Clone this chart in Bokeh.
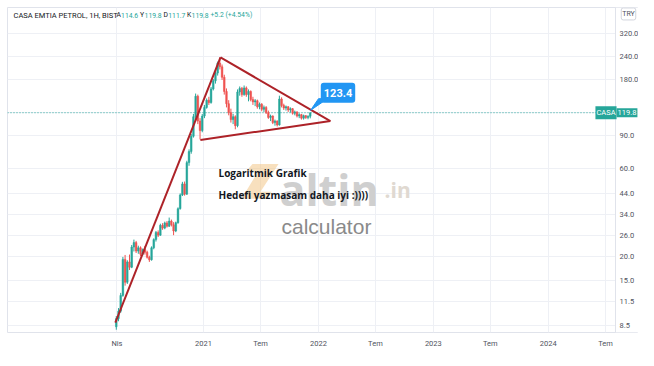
import math
import pandas as pd
from bokeh.plotting import figure
from bokeh.models import (ColumnDataSource, FixedTicker, Label, Span, PrintfTickFormatter,
                          Range1d, BoxAnnotation)
from bokeh.embed import file_html
from bokeh.resources import INLINE

# ---------------- data ----------------
start_week = "2020-03-30"   # weekly bars (1H = 1 hafta)
opens = [8.4, 9.3, 10.2, 12.4, 19.4, 14.6, 18.8, 17.6, 22.6, 23.9,
         21.5, 22.4, 20.7, 21.9, 21.2, 19.9, 19.3, 22.4, 24.8, 27.1,
         26.2, 29.6, 28.6, 30.5, 29.3, 31.2, 29.8, 27.6, 30.6, 36.4,
         43.2, 49.5, 43.6, 64.5, 74.0, 89.5, 114.0, 147.0, 108.0, 96.0,
         115.0, 128.0, 140.0, 136.0, 161.0, 178.0, 196.0, 222.0, 212.0, 186.0,
         156.0, 134.0, 120.0, 110.0, 114.0, 102.0, 155.0, 162.0, 150.0, 163.0,
         150.0, 156.0, 141.0, 137.0, 139.0, 129.0, 133.0, 125.0, 128.0, 120.0,
         113.0, 115.0, 106.0, 108.0, 103.0, 142.0, 131.0, 127.0, 129.0, 124.0,
         126.0, 119.0, 121.0, 115.0, 117.0, 112.0, 115.5, 113.0, 114.6]
highs = [9.6, 10.6, 12.8, 20.0, 20.5, 19.2, 20.6, 23.2, 24.8, 24.4,
         23.0, 22.8, 22.2, 22.9, 21.6, 20.3, 22.8, 25.2, 27.6, 27.8,
         30.2, 30.4, 31.0, 31.2, 32.6, 31.8, 30.8, 31.0, 37.0, 44.0,
         50.8, 51.0, 66.0, 76.0, 92.0, 118.0, 152.0, 150.0, 112.0, 118.0,
         132.0, 143.0, 146.0, 165.0, 182.0, 200.0, 226.0, 238.0, 218.0, 192.0,
         162.0, 140.0, 126.0, 118.0, 116.0, 160.0, 166.0, 165.0, 168.0, 166.0,
         160.0, 158.0, 146.0, 142.0, 141.0, 136.0, 135.0, 131.0, 130.0, 123.0,
         117.0, 116.0, 110.0, 109.0, 148.0, 145.0, 134.0, 131.0, 130.0, 128.0,
         127.0, 123.0, 122.0, 119.0, 118.0, 117.0, 116.5, 116.0, 119.8]
lows = [8.1, 9.0, 10.0, 12.2, 14.0, 14.3, 17.0, 17.4, 21.4, 21.0,
        20.8, 20.2, 20.4, 20.6, 19.6, 18.8, 19.1, 22.0, 24.2, 25.6,
        26.0, 28.0, 28.2, 28.8, 29.0, 29.2, 26.2, 27.2, 30.2, 36.0,
        42.6, 42.8, 43.2, 62.0, 72.0, 88.0, 110.0, 104.0, 86.0, 94.0,
        112.0, 126.0, 132.0, 134.0, 158.0, 172.0, 190.0, 205.0, 180.0, 150.0,
        128.0, 116.0, 106.0, 104.0, 97.5, 100.0, 148.0, 146.0, 148.0, 146.0,
        138.0, 138.0, 132.0, 130.0, 126.0, 125.0, 122.0, 121.0, 118.0, 111.0,
        108.0, 104.0, 102.0, 101.0, 102.0, 128.0, 124.0, 123.0, 121.0, 120.0,
        117.0, 116.0, 113.0, 112.0, 110.0, 110.0, 111.0, 110.5, 111.7]
closes = [9.3, 10.2, 12.4, 19.4, 14.6, 18.8, 17.6, 22.6, 23.9, 21.5,
          22.4, 20.7, 21.9, 21.2, 19.9, 19.3, 22.4, 24.8, 27.1, 26.2,
          29.6, 28.6, 30.5, 29.3, 31.2, 29.8, 27.6, 30.6, 36.4, 43.2,
          49.5, 43.6, 64.5, 74.0, 89.5, 114.0, 147.0, 108.0, 96.0, 115.0,
          128.0, 140.0, 136.0, 161.0, 178.0, 196.0, 222.0, 212.0, 186.0, 156.0,
          134.0, 120.0, 110.0, 114.0, 102.0, 155.0, 162.0, 150.0, 163.0, 150.0,
          156.0, 141.0, 137.0, 139.0, 129.0, 133.0, 125.0, 128.0, 120.0, 113.0,
          115.0, 106.0, 108.0, 103.0, 142.0, 131.0, 127.0, 129.0, 124.0, 126.0,
          119.0, 121.0, 115.0, 117.0, 112.0, 115.5, 113.0, 114.6, 119.8]

x_tick_dates = ["2020-04-01", "2021-01-01", "2021-07-01", "2022-01-01", "2022-07-01",
                "2023-01-01", "2023-07-01", "2024-01-01", "2024-07-01"]
x_tick_labels = ["Nis", "2021", "Tem", "2022", "Tem", "2023", "Tem", "2024", "Tem"]
y_ticks = [8.5, 11.5, 15, 20, 26, 34, 44, 60, 90, 120, 180, 240, 320]

trend_dates = [["2020-03-27", "2021-02-24"],
               ["2021-02-24", "2022-02-08"],
               ["2020-12-22", "2022-02-08"]]
trend_values = [[8.85, 238.0], [238.0, 108.0], [85.5, 108.0]]

last_price = 119.8
callout_value = 123.4
callout_date = "2021-12-07"

GREEN = "#26a69a"
RED = "#ef5350"
TREND = "#ad2228"
TXT = "#131722"
AXIS_TXT = "#50535e"
GRID = "#eef0f5"
BORDER = "#e0e3eb"


def ms(d):
    return pd.Timestamp(d).value / 1e6


YEAR_MS = 365.25 * 86400000.0


# pixel -> data helpers (view window and annotation placement only)
def t_px(x):
    return ms("2021-01-01") + (x - 203.0) / 115.0 * YEAR_MS


def v_px(y):
    return 10 ** (math.log10(8.5) + (328.3 - y) / 187.2)


week_ms = 7 * 86400000.0
dates = [ms(pd.Timestamp(start_week) + pd.Timedelta(weeks=i)) for i in range(len(opens))]
colors = [GREEN if c >= o else RED for o, c in zip(opens, closes)]
src = ColumnDataSource(dict(
    x=dates,
    top=[max(o, c) for o, c in zip(opens, closes)],
    bottom=[min(o, c) for o, c in zip(opens, closes)],
    high=highs, low=lows, color=colors))

p = figure(width=638, height=350, y_axis_type="log", y_axis_location="right",
           x_range=Range1d(t_px(7), t_px(638)), y_range=Range1d(v_px(335), v_px(7)),
           output_backend="svg", toolbar_location=None,
           min_border_left=7, min_border_top=7, min_border_right=0, min_border_bottom=15)
p.background_fill_color = "white"
p.border_fill_color = "white"
p.outline_line_color = BORDER

# time axis
xt = [ms(d) for d in x_tick_dates]
p.xaxis.ticker = FixedTicker(ticks=xt)
p.xaxis.major_label_overrides = {t: lab for t, lab in zip(xt, x_tick_labels)}
p.xaxis.axis_line_color = None
p.xaxis.major_tick_line_color = None
p.xaxis.minor_tick_line_color = None
p.xaxis.major_tick_out = 0
p.xaxis.major_tick_in = 0
p.xaxis.major_label_text_font = "Roboto"
p.xaxis.major_label_text_font_size = "7.5px"
p.xaxis.major_label_text_color = AXIS_TXT
p.xaxis.major_label_standoff = 6

# price axis (drawn at the price-scale edge)
p.yaxis.fixed_location = t_px(615)
p.yaxis.ticker = FixedTicker(ticks=y_ticks)
p.yaxis.formatter = PrintfTickFormatter(format="%.1f")
p.yaxis.major_label_overrides = {120: ""}
p.yaxis.axis_line_color = BORDER
p.yaxis.major_tick_line_color = None
p.yaxis.minor_tick_line_color = None
p.yaxis.major_tick_out = 0
p.yaxis.major_tick_in = 0
p.yaxis.major_label_text_font = "Roboto"
p.yaxis.major_label_text_font_size = "7.5px"
p.yaxis.major_label_text_color = AXIS_TXT
p.yaxis.major_label_standoff = 4

p.xgrid.ticker = FixedTicker(ticks=xt)
p.ygrid.ticker = FixedTicker(ticks=y_ticks)
p.xgrid.grid_line_color = GRID
p.ygrid.grid_line_color = GRID

# last price dotted line
p.add_layout(Span(location=last_price, dimension="width", line_color=GREEN,
                  line_dash="1 2", line_width=1, level="underlay"))

# blank price-scale column (no grid there)
p.add_layout(BoxAnnotation(left=t_px(615), fill_color="white", fill_alpha=1.0,
                           line_color=None, level="glyph"))

# watermark (altin.in calculator)
wm_x = [t_px(v) for v in (252, 278, 260, 271, 267, 241, 258, 246)]
wm_y = [v_px(v) for v in (165, 165, 193, 193, 200, 200, 172, 172)]
p.patch(wm_x, wm_y, fill_color="#f2c27e", fill_alpha=0.5, line_color=None)
p.add_layout(Label(x=t_px(279), y=v_px(191), text="altin", text_font="Open Sans",
                   text_font_style="bold", text_font_size="43px", text_color="#cfcfcf",
                   text_baseline="alphabetic"))
p.add_layout(Label(x=t_px(384), y=v_px(191), text=".in", text_font="Open Sans",
                   text_font_style="bold", text_font_size="21px", text_color="#e0d9d1",
                   text_baseline="alphabetic"))
p.add_layout(Label(x=t_px(281), y=v_px(228), text="calculator", text_font="Liberation Sans",
                   text_font_size="21px", text_color="#8a8a8a", text_baseline="alphabetic"))

# candles
p.segment(x0="x", y0="low", x1="x", y1="high", line_color="color", line_width=1, source=src)
p.vbar(x="x", width=0.75 * week_ms, top="top", bottom="bottom",
       fill_color="color", line_color="color", line_width=0.5, source=src)

# trend lines
p.multi_line(xs=[[ms(d) for d in seg] for seg in trend_dates], ys=trend_values,
             line_color=TREND, line_width=2)

# callout 123.4
tail_x = [ms(callout_date), t_px(318), t_px(327)]
tail_y = [callout_value, v_px(99), v_px(99)]
p.patch(tail_x, tail_y, fill_color="#2196f3", line_color="#2196f3")
p.add_layout(Label(x=t_px(337.5), y=v_px(93), text=f"{callout_value:.1f}",
                   text_align="center", text_baseline="middle", text_color="white",
                   text_font="Roboto", text_font_style="bold", text_font_size="11px",
                   background_fill_color="#2196f3", padding=(3, 6), border_radius=3))

# notes
p.add_layout(Label(x=t_px(218), y=v_px(174), text="Logaritmik Grafik", text_font="Open Sans",
                   text_font_style="bold", text_font_size="10px", text_color=TXT,
                   text_baseline="middle"))
p.add_layout(Label(x=t_px(218), y=v_px(196), text="Hedefi yazmasam daha iyi :))))",
                   text_font="Open Sans", text_font_style="bold", text_font_size="10px",
                   text_color=TXT, text_baseline="middle"))

# legend line at top
legend_parts = [(13, "CASA EMTIA PETROL, 1H, BIST", TXT, "7.5px"),
                (116, "A", TXT, "6.8px"), (120.6, "114.6", GREEN, "6.8px"),
                (139.5, "Y", TXT, "6.8px"), (144.1, "119.8", GREEN, "6.8px"),
                (163, "D", TXT, "6.8px"), (167.8, "111.7", GREEN, "6.8px"),
                (186.5, "K", TXT, "6.8px"), (191.1, "119.8", GREEN, "6.8px"),
                (210, "+5.2 (+4.54%)", GREEN, "6.8px")]
for px, txt, col, fs in legend_parts:
    p.add_layout(Label(x=t_px(px), y=v_px(15), text=txt, text_font="Roboto",
                       text_font_size=fs, text_color=col, text_baseline="middle"))

# price-scale labels
p.add_layout(Label(x=t_px(605.5), y=last_price, text="CASA", text_align="center",
                   text_baseline="middle", text_color="white", text_font="Roboto",
                   text_font_size="7.5px", background_fill_color=GREEN, padding=(1, 2)))
p.add_layout(Label(x=t_px(626.5), y=last_price, text=f"{last_price:.1f}",
                   text_align="center", text_baseline="middle", text_color="white",
                   text_font="Roboto", text_font_size="7.5px", background_fill_color=GREEN,
                   padding=(1, 2)))
p.add_layout(Label(x=t_px(628), y=v_px(13.5), text="TRY", text_align="center",
                   text_baseline="middle", text_color=AXIS_TXT, text_font="Roboto",
                   text_font_size="7px", background_fill_color="white",
                   border_line_color="#d1d4dc", padding=(1, 2), border_radius=2))

open("out.html", "w").write(file_html(p, INLINE))
